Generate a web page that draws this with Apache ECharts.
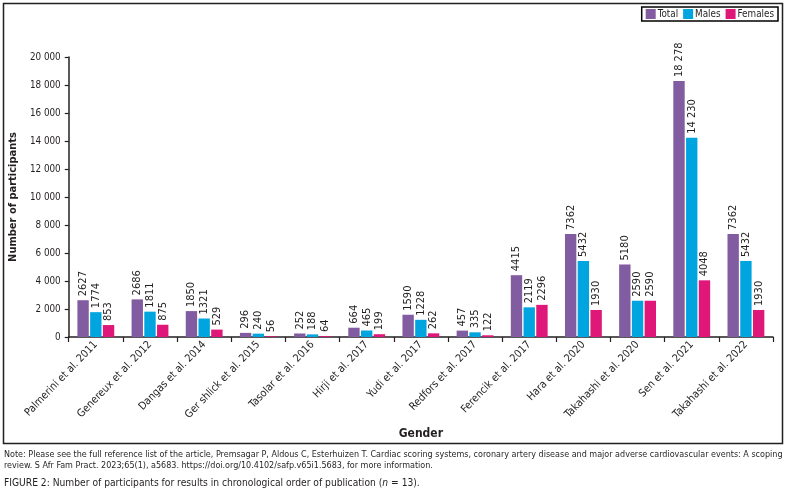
<!DOCTYPE html>
<html>
<head>
<meta charset="utf-8">
<script src="https://cdn.jsdelivr.net/npm/echarts@6/dist/echarts.min.js"></script>
<style>
html,body{margin:0;padding:0;background:#fff;}
#c{width:786px;height:492px;}
</style>
</head>
<body>
<div id="c"></div>
<script>
const categories = ["Palmerini et al. 2011","Genereux et al. 2012","Dangas et al. 2014","Ger shlick et al. 2015","Tasolar et al. 2016","Hirji et al. 2017","Yudi et al. 2017","Redfors et al. 2017","Ferencik et al. 2017","Hara et al. 2020","Takahashi et al. 2020","Sen et al. 2021","Takahashi et al. 2022"];
const totalValues = [2627,2686,1850,296,252,664,1590,457,4415,7362,5180,18278,7362];
const maleValues = [1774,1811,1321,240,188,465,1228,335,2119,5432,2590,14230,5432];
const femaleValues = [853,875,529,56,64,199,262,122,2296,1930,2590,4048,1930];
const seriesNames = ["Total","Males","Females"];
const colors = ["#825CA0","#00A5DF","#DE1778"];
const noteLines = [
 "Note: Please see the full reference list of the article, Premsagar P, Aldous C, Esterhuizen T. Cardiac scoring systems, coronary artery disease and major adverse cardiovascular events: A scoping",
 "review. S Afr Fam Pract. 2023;65(1), a5683. https://doi.org/10.4102/safp.v65i1.5683, for more information."
];
const captionText = "FIGURE 2: Number of participants for results in chronological order of publication (";

const FONT = "'DejaVu Sans Condensed','Liberation Sans Narrow',sans-serif";
function spaced(v){
  const s = String(Math.round(v));
  return s.replace(/\B(?=(\d{3})+(?!\d))/g, " ");
}
function labelFmt(p){
  return p.value >= 10000 ? spaced(p.value) : String(p.value);
}
const chart = echarts.init(document.getElementById('c'));
const dataSets = [totalValues, maleValues, femaleValues];
chart.setOption({
  animation:false,
  textStyle:{fontFamily:FONT},
  color:colors,
  legend:{
    right:8, top:7, orient:'horizontal',
    borderColor:'#000', borderWidth:1.5, padding:[2,4,2,4],
    itemWidth:10, itemHeight:10, itemGap:5, icon:'rect',
    textStyle:{fontFamily:FONT,fontSize:9.8,color:'#231f20',padding:[0,0,0,-3]},
    data:seriesNames
  },
  grid:{left:68,right:13,top:57,bottom:155,containLabel:false},
  xAxis:{
    type:'category', data:categories,
    axisLine:{lineStyle:{color:'#231f20',width:1.5}},
    axisTick:{show:true,alignWithLabel:false,length:5,lineStyle:{color:'#231f20',width:1.2}},
    axisLabel:{rotate:46,interval:0,fontSize:10.7,color:'#231f20',margin:6,fontFamily:FONT},
    name:'Gender', nameLocation:'middle', nameGap:88,
    nameTextStyle:{fontWeight:'bold',fontSize:12,color:'#231f20',fontFamily:FONT}
  },
  yAxis:{
    type:'value', min:0, max:20000, interval:2000,
    splitLine:{show:false},
    axisLine:{show:true,lineStyle:{color:'#231f20',width:1.5}},
    axisTick:{show:true,length:4,lineStyle:{color:'#231f20',width:1.2}},
    axisLabel:{fontSize:9.8,color:'#231f20',margin:8,formatter:v=>spaced(v),fontFamily:FONT},
    name:'Number of participants', nameLocation:'middle', nameGap:48,
    nameTextStyle:{fontWeight:'bold',fontSize:11,color:'#231f20',fontFamily:FONT}
  },
  series: seriesNames.map((n,i)=>({
    name:n, type:'bar', data:dataSets[i],
    barGap:'12%', barCategoryGap:'32%',
    itemStyle:{color:colors[i]},
    label:{show:true,position:'top',rotate:90,align:'left',verticalAlign:'middle',distance:4,
      fontSize:11,color:'#231f20',formatter:labelFmt,fontFamily:FONT}
  })),
  graphic:[
    {type:'rect',shape:{x:3.5,y:3.5,width:779,height:440},style:{fill:'none',stroke:'#231f20',lineWidth:1.5},silent:true},
    {type:'text',left:4,top:450,style:{text:noteLines[0],fontSize:8.95,fill:'#231f20',fontFamily:FONT}},
    {type:'text',left:4,top:461,style:{text:noteLines[1],fontSize:8.95,fill:'#231f20',fontFamily:FONT}},
    {type:'text',left:4,top:478,style:{
      text:captionText+'{i|n} = 13).',
      rich:{i:{fontStyle:'italic',fontSize:10.2,fontFamily:FONT,fill:'#231f20'}},
      fontSize:10.2,fill:'#231f20',fontFamily:FONT}}
  ]
});
</script>
</body>
</html>
